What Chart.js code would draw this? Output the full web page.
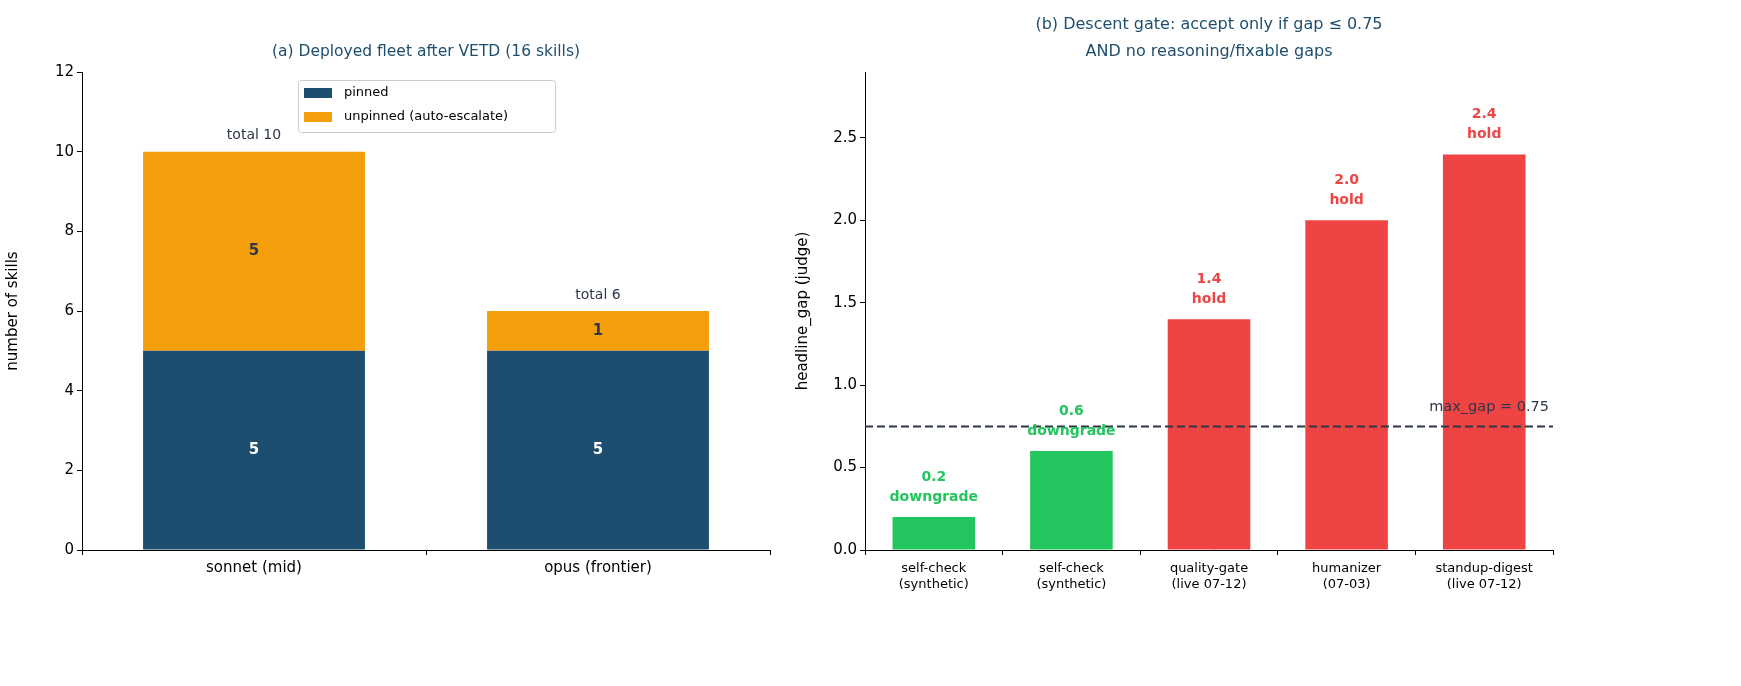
<!DOCTYPE html>
<html><head><meta charset="utf-8">
<script src="https://cdn.jsdelivr.net/npm/chart.js@4/dist/chart.umd.min.js"></script>
<style>body{margin:0;background:#fff;width:1741px;height:686px;position:relative;overflow:hidden}
canvas{position:absolute;top:0}</style></head><body>
<canvas id="c1" style="left:0;width:790px;height:686px"></canvas>
<canvas id="c2" style="left:790px;width:951px;height:686px"></canvas>
<script>
const fleetCats = ["sonnet (mid)", "opus (frontier)"];
const pinned = [5, 5];
const unpinned = [5, 1];
const gateCats = [["self-check","(synthetic)"],["self-check","(synthetic)"],["quality-gate","(live 07-12)"],["humanizer","(07-03)"],["standup-digest","(live 07-12)"]];
const gaps = [0.2, 0.6, 1.4, 2.0, 2.4];
const verdicts = ["downgrade","downgrade","hold","hold","hold"];
const maxGap = 0.75;

const F = "'DejaVu Sans', sans-serif";
const NAVY = "#1d4e6f", ORANGE = "#f59e0b", GREEN = "#22c55e", RED = "#ef4444", TITLE = "#1f4e6e";
Chart.defaults.font.family = F;
Chart.defaults.color = "#000";
Chart.defaults.devicePixelRatio = 1;

function mk(id, w){const c=document.getElementById(id);c.width=w;c.height=686;return c;}
const tickGrid = {display:true, drawOnChartArea:false, drawTicks:true, tickLength:5, color:'#000'};

const p1 = {id:'p1', afterDatasetsDraw(ch){
  const ctx=ch.ctx, x=ch.scales.x, y=ch.scales.y;
  ctx.save(); ctx.textAlign='center'; ctx.textBaseline='middle';
  ctx.fillStyle=TITLE; ctx.font="15.5px "+F;
  ctx.fillText("(a) Deployed fleet after VETD (16 skills)", (x.left+x.right)/2, 52);
  fleetCats.forEach((c,i)=>{
    const cx=x.getPixelForValue(i);
    ctx.font="bold 15px "+F;
    ctx.fillStyle="#fff"; ctx.fillText(String(pinned[i]), cx, y.getPixelForValue(pinned[i]/2));
    ctx.fillStyle="#2d3748"; ctx.fillText(String(unpinned[i]), cx, y.getPixelForValue(pinned[i]+unpinned[i]/2));
    ctx.font="14px "+F; ctx.fillStyle="#2d3748";
    ctx.fillText("total "+(pinned[i]+unpinned[i]), cx, y.getPixelForValue(pinned[i]+unpinned[i])-16);
  });
  const lx=298, ly=80;
  ctx.strokeStyle="#ccc"; ctx.lineWidth=1; ctx.fillStyle="rgba(255,255,255,0.8)";
  ctx.beginPath(); ctx.roundRect(lx+.5,ly+.5,257,52,3); ctx.fill(); ctx.stroke();
  ctx.textAlign='left'; ctx.font="13px "+F;
  ctx.fillStyle=NAVY; ctx.fillRect(lx+6,ly+8,28,10);
  ctx.fillStyle=ORANGE; ctx.fillRect(lx+6,ly+32,28,10);
  ctx.fillStyle="#000";
  ctx.fillText("pinned", lx+46, ly+13); ctx.fillText("unpinned (auto-escalate)", lx+46, ly+37);
  ctx.restore();
}};

new Chart(mk('c1',790), {type:'bar',
  data:{labels:fleetCats, datasets:[
    {label:'pinned', data:pinned, backgroundColor:NAVY, barPercentage:0.645, categoryPercentage:1},
    {label:'unpinned (auto-escalate)', data:unpinned, backgroundColor:ORANGE, barPercentage:0.645, categoryPercentage:1}]},
  options:{responsive:false, animation:false, layout:{padding:{top:72,right:20,left:0,bottom:0}},
    plugins:{legend:{display:false}, tooltip:{enabled:false}},
    scales:{
      x:{stacked:true, grid:tickGrid, border:{color:'#000'},
         ticks:{font:{size:15}, color:'#000', padding:4}, afterFit(s){s.height=136;}},
      y:{stacked:true, min:0, max:12, grid:tickGrid, border:{color:'#000'},
         ticks:{stepSize:2, font:{size:15}, color:'#000'},
         title:{display:true, text:'number of skills', font:{size:15}, color:'#000'},
         afterFit(s){s.width=82;}}}},
  plugins:[p1]});

const p2 = {id:'p2', afterDatasetsDraw(ch){
  const ctx=ch.ctx, x=ch.scales.x, y=ch.scales.y;
  ctx.save(); ctx.textAlign='center'; ctx.textBaseline='middle';
  ctx.fillStyle=TITLE; ctx.font="16px "+F;
  const mid=(x.left+x.right)/2;
  ctx.fillText("(b) Descent gate: accept only if gap \u2264 0.75", mid, 25);
  ctx.fillText("AND no reasoning/fixable gaps", mid, 52);
  const yl=y.getPixelForValue(maxGap);
  ctx.strokeStyle="#2d3748"; ctx.lineWidth=2; ctx.setLineDash([8,4]);
  ctx.beginPath(); ctx.moveTo(x.left,yl); ctx.lineTo(x.right,yl); ctx.stroke(); ctx.setLineDash([]);
  ctx.textAlign='right'; ctx.font="14.5px "+F; ctx.fillStyle="#2d3748";
  ctx.fillText("max_gap = 0.75", x.right-4, yl-19);
  ctx.textAlign='center'; ctx.font="bold 14px "+F;
  gaps.forEach((g,i)=>{
    const cx=x.getPixelForValue(i), ty=y.getPixelForValue(g);
    ctx.fillStyle = g<=maxGap?GREEN:RED;
    ctx.fillText(g.toFixed(1), cx, ty-40); ctx.fillText(verdicts[i], cx, ty-20);
  });
  ctx.restore();
}};

new Chart(mk('c2',951), {type:'bar',
  data:{labels:gateCats, datasets:[{data:gaps, backgroundColor:gaps.map(g=>g<=maxGap?GREEN:RED), barPercentage:0.6, categoryPercentage:1}]},
  options:{responsive:false, animation:false, layout:{padding:{top:72,right:188,left:0,bottom:0}},
    plugins:{legend:{display:false}, tooltip:{enabled:false}},
    scales:{
      x:{grid:tickGrid, border:{color:'#000'},
         ticks:{font:{size:13}, color:'#000', padding:6, maxRotation:0, autoSkip:false}, afterFit(s){s.height=136;}},
      y:{min:0, max:2.9, grid:tickGrid, border:{color:'#000'},
         afterBuildTicks(s){s.ticks=[0,0.5,1,1.5,2,2.5].map(v=>({value:v}));},
         ticks:{font:{size:15}, color:'#000', callback:v=>v.toFixed(1)},
         title:{display:true, text:'headline_gap (judge)', font:{size:15}, color:'#000'},
         afterFit(s){s.width=75;}}}},
  plugins:[p2]});
</script></body></html>
